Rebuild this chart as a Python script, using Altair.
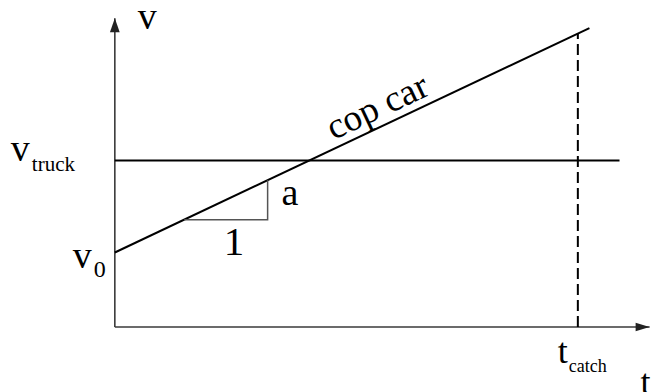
import altair as alt
import pandas as pd

# Velocity-time sketch: a cop car accelerating from v0 chases a truck moving at constant speed.
V0 = 3.4
V_TRUCK = 7.6
T_CATCH = 10.0

cop_t = [0.0, 10.25]
cop_v = [3.4, 13.65]
truck_t = [0.0, 10.9]
truck_v = [7.6, 7.6]
catch_v = [0.0, 13.4]          # dashed marker at the catch time, up to the cop-car line
slope_t = [1.5, 3.3, 3.3]      # little slope triangle ("1" across, "a" up)
slope_v = [4.9, 4.9, 6.7]
axis_t_end = 11.55
axis_v_end = 14.1

T_DOMAIN = [-2.48, 11.58]
V_DOMAIN = [-2.97, 14.93]
W, H = 651, 392
FONT = "Liberation Serif"

xs = alt.Scale(domain=T_DOMAIN, nice=False, zero=False)
ys = alt.Scale(domain=V_DOMAIN, nice=False, zero=False)


def X(field="t"):
    return alt.X(f"{field}:Q", scale=xs, axis=None)


def Y(field="v"):
    return alt.Y(f"{field}:Q", scale=ys, axis=None)


# axes with arrowheads
axes_df = pd.DataFrame({
    "t": [0.0, 0.0], "v": [0.0, 0.0],
    "t2": [0.0, axis_t_end], "v2": [axis_v_end, 0.0],
})
axes = alt.Chart(axes_df).mark_rule(color="#3a3a3a", strokeWidth=1.6).encode(
    x=X(), y=Y(), x2="t2:Q", y2="v2:Q"
)

up_arrow = alt.Chart(pd.DataFrame({"t": [0.0], "v": [axis_v_end]})).mark_point(
    shape="M0,0L0.7,2L-0.7,2Z", filled=True, opacity=1, color="#222", size=196
).encode(x=X(), y=Y())

right_arrow = alt.Chart(pd.DataFrame({"t": [axis_t_end], "v": [0.0]})).mark_point(
    shape="M0,0L-2,-0.6L-2,0.6Z", filled=True, opacity=1, color="#222", size=196
).encode(x=X(), y=Y())

truck = alt.Chart(pd.DataFrame({"t": truck_t, "v": truck_v})).mark_line(
    color="black", strokeWidth=2
).encode(x=X(), y=Y())

cop = alt.Chart(pd.DataFrame({"t": cop_t, "v": cop_v})).mark_line(
    color="black", strokeWidth=2
).encode(x=X(), y=Y())

catch_line = alt.Chart(pd.DataFrame({"t": [T_CATCH, T_CATCH], "v": catch_v})).mark_line(
    color="black", strokeWidth=2, strokeDash=[11, 5]
).encode(x=X(), y=Y())

slope = alt.Chart(pd.DataFrame({"t": slope_t, "v": slope_v, "i": [0, 1, 2]})).mark_line(
    color="#555", strokeWidth=1.5
).encode(x=X(), y=Y(), order="i:O")


def label(text, t, v, size=38, align="left", dx=0, dy=0, angle=0):
    mark = dict(text=text, font=FONT, fontSize=size, align=align, baseline="alphabetic",
                dx=dx, dy=dy, color="black")
    if angle:
        mark["angle"] = angle
    return alt.Chart(pd.DataFrame({"t": [t], "v": [v]})).mark_text(**mark).encode(x=X(), y=Y())


labels = [
    label("v", 0.0, axis_v_end, dx=23, dy=11),
    label("v", 0.0, V_TRUCK, align="right", dx=-85, dy=0),
    label("truck", 0.0, V_TRUCK, size=21, dx=-83, dy=10),
    label("v", 0.0, V0, align="right", dx=-23, dy=15),
    label("0", 0.0, V0, size=24, dx=-21, dy=24),
    label("a", 3.3, 5.8, dx=14, dy=5),
    label("1", 2.4, 4.9, size=41, align="center", dx=8, dy=35),
    label("cop car", 5.85, V0 + 5.85, size=37, align="center", dy=-8, angle=334.7),
    label("t", T_CATCH, 0.0, size=36, align="right", dx=-10, dy=36),
    label("catch", T_CATCH, 0.0, size=18, dx=-9, dy=45),
    label("t", axis_t_end, 0.0, size=36, dx=-9, dy=67),
]

chart = alt.layer(
    axes, up_arrow, right_arrow, truck, cop, catch_line, slope, *labels
).properties(
    width=W, height=H, padding=0, autosize=alt.AutoSizeParams(type="none"), background="white"
).configure_view(stroke=None)

chart.save("out.html", embed_options={"renderer": "svg", "actions": False})
